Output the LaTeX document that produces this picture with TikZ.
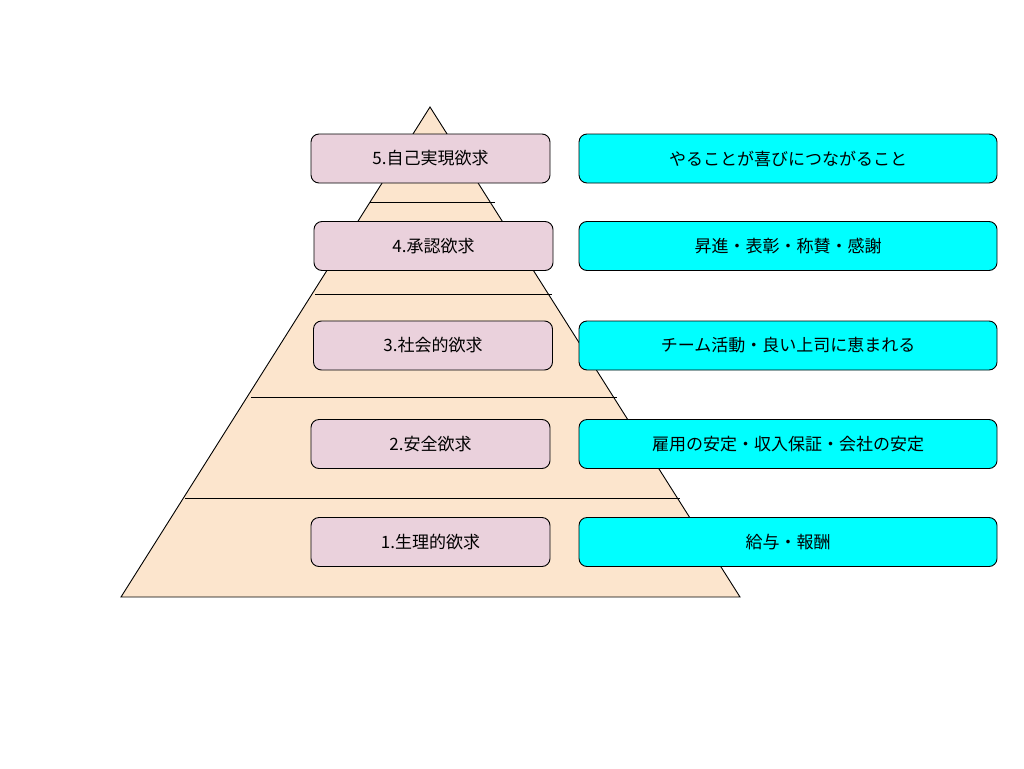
\documentclass[tikz,border=0pt]{standalone}
\usepackage{fontspec}
\setmainfont{Noto Sans CJK JP}
\definecolor{peach}{HTML}{FCE5CD}
\definecolor{pinkbox}{HTML}{EAD1DC}
\definecolor{cyanbox}{HTML}{00FFFF}
\begin{document}
\begin{tikzpicture}[x=1pt,y=-1pt,
  lvl/.style={draw=black,line width=0.9pt,rounded corners=8pt,fill=pinkbox,minimum width=239pt,minimum height=49pt,inner sep=0pt,font=\fontsize{17}{20}\selectfont},
  ex/.style={draw=black,line width=0.9pt,rounded corners=8pt,fill=cyanbox,minimum width=418pt,minimum height=49pt,inner sep=0pt,font=\fontsize{17}{20}\selectfont},
  sep/.style={draw=black,line width=0.9pt}]
\useasboundingbox (0,0) rectangle (1024,768);
\coordinate (apex) at (430,107);
\coordinate (bl) at (121,597);
\coordinate (br) at (740,597);
\draw[fill=peach,line width=0.9pt] (apex) -- (br) -- (bl) -- cycle;
\draw[sep] (370,202) -- (495,202);
\draw[sep] (315,294) -- (552,294);
\draw[sep] (251,397) -- (617,397);
\draw[sep] (185,498) -- (680,498);
\node[lvl] (l5) at (430.5,158.5) {5.自己実現欲求};
\node[lvl] (l4) at (433.5,246) {4.承認欲求};
\node[lvl] (l3) at (433,345.5) {3.社会的欲求};
\node[lvl] (l2) at (430.5,444) {2.安全欲求};
\node[lvl] (l1) at (430.5,542) {1.生理的欲求};
\node[ex] (e5) at (788,158.5) {やることが喜びにつながること};
\node[ex] (e4) at (788,246) {昇進・表彰・称賛・感謝};
\node[ex] (e3) at (788,345.5) {チーム活動・良い上司に恵まれる};
\node[ex] (e2) at (788,444) {雇用の安定・収入保証・会社の安定};
\node[ex] (e1) at (788,542) {給与・報酬};
\end{tikzpicture}
\end{document}
